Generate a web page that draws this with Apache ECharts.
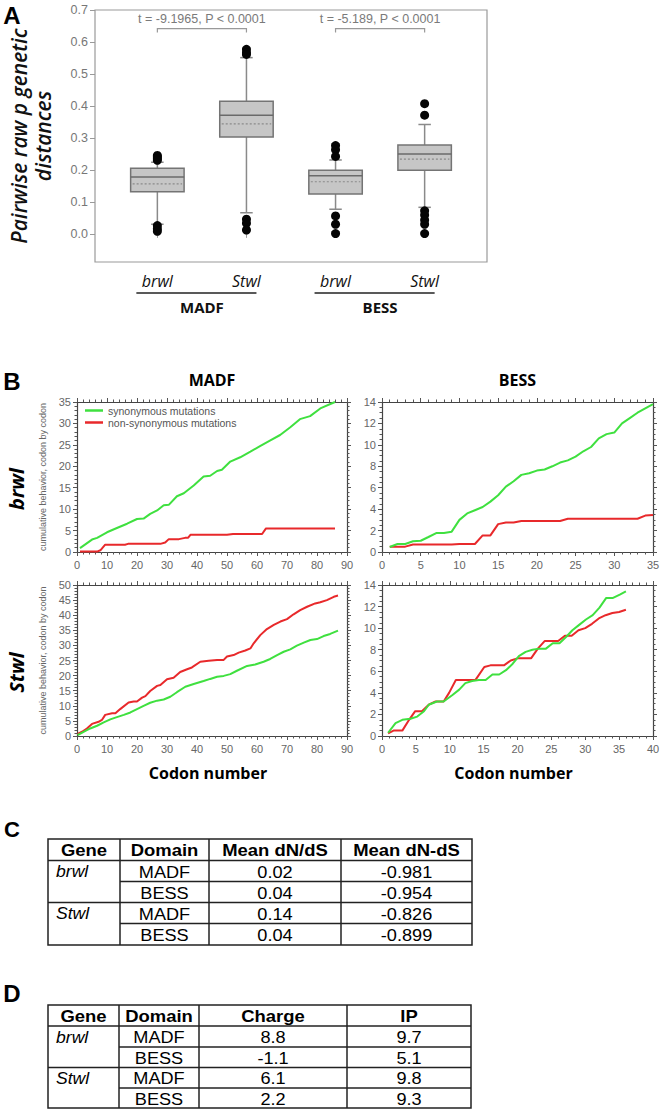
<!DOCTYPE html>
<html><head><meta charset="utf-8">
<script src="https://cdn.jsdelivr.net/npm/echarts@6/dist/echarts.min.js"></script>
<style>html,body{margin:0;padding:0;background:#fff}#c{width:667px;height:1112px}</style>
</head><body><div id="c"></div>
<script>
// ---------- Panel A data ----------
const boxCategories = ['brwl', 'Stwl', 'brwl', 'Stwl'];
const boxGroups = [[1, 2, 'MADF'], [3, 4, 'BESS']];
// [position, lowerWhisker, q1, median, q3, upperWhisker, mean]
const boxStats = [
  [1, 0.030, 0.132, 0.178, 0.205, 0.224, 0.156],
  [2, 0.066, 0.303, 0.371, 0.415, 0.551, 0.344],
  [3, 0.077, 0.125, 0.182, 0.199, 0.231, 0.163],
  [4, 0.083, 0.199, 0.250, 0.278, 0.342, 0.234]
];
const boxOutliers = [
  [1, 0.245], [1, 0.240], [1, 0.235], [1, 0.230], [1, 0.026], [1, 0.016], [1, 0.008],
  [2, 0.577], [2, 0.567], [2, 0.561], [2, 0.046], [2, 0.033], [2, 0.012],
  [3, 0.276], [3, 0.263], [3, 0.242], [3, 0.056], [3, 0.030], [3, 0.001],
  [4, 0.407], [4, 0.371], [4, 0.072], [4, 0.059], [4, 0.043], [4, 0.030], [4, 0.001]
];
const boxTicks = [0, 0.1, 0.2, 0.3, 0.4, 0.5, 0.6, 0.7];
const tTests = [[1, 2, 't = -9.1965, P < 0.0001'], [3, 4, 't = -5.189, P < 0.0001']];

// ---------- Panel B data ----------
const seriesNames = ['synonymous mutations', 'non-synonymous mutations'];
const brwlMadfSyn = [[1,0.9],[5,2.9],[6.7,3.3],[10,4.6],[13.3,5.6],[16.7,6.6],[20,7.7],[22.2,7.8],[24.4,8.9],[26.7,9.7],[28.9,10.9],[30.6,11.0],[33.3,13.0],[35.6,13.7],[38.9,15.5],[42.2,17.6],[44.4,17.8],[46.7,18.9],[48.3,19.2],[51.1,21.1],[54.4,22.1],[57.8,23.4],[61,24.7],[64.3,26],[67.7,27.3],[71.1,29.1],[74.3,31],[77.7,31.7],[81.1,33.5],[86,35]];
const brwlMadfNon = [[1,0.1],[6.7,0.1],[7.8,0.4],[9.4,1.7],[16,1.7],[17,1.9],[27.8,1.9],[29.4,2.2],[30.6,3.0],[34,3.0],[36,3.3],[37,3.3],[37.8,4.0],[50,4.0],[52,4.2],[61.7,4.2],[63,5.5],[86,5.5]];
const brwlBessSyn = [[1,0.47],[2,0.75],[3,0.75],[4,1.0],[5,1.05],[6,1.4],[7,1.77],[8,1.77],[9,1.9],[10,3.0],[11,3.6],[12,3.9],[13,4.2],[14,4.7],[15,5.3],[16,6.1],[17,6.6],[18,7.2],[19,7.35],[20,7.6],[21,7.7],[22,8.0],[23,8.35],[24,8.55],[25,8.9],[26,9.4],[27,9.8],[28,10.6],[29,11.0],[30,11.15],[31,12.0],[32,12.5],[33,13.0],[34,13.4],[35,13.8]];
const brwlBessNon = [[1,0.5],[3,0.5],[4,0.7],[9,0.7],[10,0.75],[12,0.75],[13,1.55],[14,1.55],[15,2.6],[16,2.75],[17,2.75],[18,2.9],[23,2.9],[24,3.1],[33,3.1],[34,3.4],[35,3.45]];
const stwlMadfSyn = [[0.2,0.3],[2.2,1.4],[4.4,2.5],[6.7,3.4],[8.9,4.5],[11.1,5.5],[12.8,6.1],[15.6,7.0],[17.8,7.8],[20,8.9],[22.2,10.0],[24.4,11.0],[26.7,11.7],[28.9,12.1],[31.1,13.0],[33.3,14.5],[36.1,16.3],[38.9,17.2],[42.2,18.2],[44.4,18.9],[46.7,19.6],[48.9,19.9],[51.1,20.5],[53.3,21.6],[56.7,23.2],[59.4,23.7],[62.2,24.6],[64.4,25.5],[66.7,26.8],[68.9,27.9],[71.1,28.7],[73.3,29.9],[75.6,30.9],[77.8,31.8],[80,32.1],[82.2,33.1],[84.4,33.8],[87,34.9]];
const stwlMadfNon = [[0.2,0.7],[1.7,1.4],[3.3,2.5],[5,4.0],[7.2,4.7],[8.3,5.3],[9.4,7.0],[11.7,7.5],[12.8,7.5],[14.4,8.9],[17.2,11.1],[18.9,11.4],[20,11.4],[21.7,12.7],[22.8,13.2],[24.4,14.9],[26.7,16.6],[27.8,16.9],[30,18.8],[32.2,19.3],[34.4,21.2],[36.7,22.1],[38.3,22.7],[41.1,24.6],[43.9,24.9],[46.7,25.2],[48.9,25.2],[50,26.3],[52.2,26.8],[53.9,27.6],[56.1,28.3],[57.8,29.0],[58.9,30.7],[61.1,33.4],[63.3,35.4],[65.6,36.8],[67.8,37.9],[70,38.7],[72.2,40.3],[74.4,41.7],[76.7,42.8],[79.4,43.9],[81.1,44.3],[83.3,45],[85.6,46.1],[87,46.5]];
const stwlBessSyn = [[0.9,0.3],[2,1.2],[3,1.5],[4.2,1.6],[5.2,1.8],[6.2,2.3],[6.9,2.9],[8.1,3.2],[9.1,3.2],[10.4,3.8],[11.4,4.3],[12.3,4.9],[13.3,5.1],[14.3,5.2],[15.3,5.2],[16.3,5.7],[17.3,5.7],[18.3,6.1],[19.3,6.7],[20.2,7.4],[21.2,7.8],[22.2,8.0],[23.2,8.1],[24.2,8.1],[25.2,8.6],[26.2,8.6],[27.2,9.2],[28.1,9.8],[29.1,10.3],[30.1,10.8],[31.1,11.2],[32.1,11.9],[33.1,12.8],[34.1,12.8],[35.1,13.1],[36,13.4]];
const stwlBessNon = [[0.9,0.25],[1.7,0.5],[3,0.5],[4,1.5],[4.9,2.3],[5.9,2.3],[6.9,2.9],[7.9,3.2],[9.1,3.2],[9.9,4.0],[10.9,5.2],[11.9,5.2],[12.8,5.2],[13.8,5.2],[15.1,6.4],[16,6.55],[17,6.55],[18,6.55],[19,7.0],[20,7.2],[21,7.2],[22,7.2],[23,8.1],[24,8.8],[25,8.8],[26,8.8],[27,9.3],[28,9.3],[29,9.8],[30,10.0],[31,10.4],[32,10.9],[33,11.2],[34,11.4],[35,11.5],[36,11.7]];
const panelBCols = ['MADF', 'BESS'];
const panelBRows = ['brwl', 'Stwl'];

// ---------- Tables ----------
const tableCHeader = ['Gene', 'Domain', 'Mean dN/dS', 'Mean dN-dS'];
const tableDHeader = ['Gene', 'Domain', 'Charge', 'IP'];
const tableGenes = ['brwl', '', 'Stwl', ''];
const tableDomains = ['MADF', 'BESS', 'MADF', 'BESS'];
const meanRatio = ['0.02', '0.04', '0.14', '0.04'];
const meanDiff = ['-0.981', '-0.954', '-0.826', '-0.899'];
const charge = ['8.8', '-1.1', '6.1', '2.2'];
const isoPoint = ['9.7', '5.1', '9.8', '9.3'];

// ---------- Layout ----------
const GRID_A = {left: 95, top: 10, width: 392, height: 252};
const GRIDS_B = [
  {left: 77, top: 402, width: 270, height: 150},
  {left: 382, top: 402, width: 271, height: 150},
  {left: 77, top: 585, width: 270, height: 151},
  {left: 382, top: 585, width: 271, height: 151}
];
const B_AXES = [
  {xMax: 90, xInt: 10, xMinor: 5, yMax: 35, yInt: 5, yMinor: 5},
  {xMax: 35, xInt: 5, xMinor: 5, yMax: 14, yInt: 2, yMinor: 4},
  {xMax: 90, xInt: 10, xMinor: 5, yMax: 50, yInt: 5, yMinor: 5},
  {xMax: 40, xInt: 5, xMinor: 5, yMax: 14, yInt: 2, yMinor: 4}
];
const B_DATA = [[brwlMadfSyn, brwlMadfNon], [brwlBessSyn, brwlBessNon], [stwlMadfSyn, stwlMadfNon], [stwlBessSyn, stwlBessNon]];
const GREEN = '#3fe03f', RED = '#e8292b';

const chart = echarts.init(document.getElementById('c'), null, {renderer: 'svg'});

const grids = [Object.assign({show: true, borderColor: '#9a9a9a', borderWidth: 1.2, outerBoundsMode: 'none'}, GRID_A)]
  .concat(GRIDS_B.map(g => Object.assign({outerBoundsMode: 'none'}, g)));

const xAxes = [{
  gridIndex: 0, type: 'value', min: 0.3, max: 4.7,
  axisLine: {show: false}, splitLine: {show: false},
  axisTick: {show: true, customValues: [1, 2, 3, 4], length: 4, lineStyle: {color: '#999'}},
  axisLabel: {show: true, customValues: [1, 2, 3, 4], margin: 11,
    formatter: v => boxCategories[Math.round(v) - 1],
    fontFamily: 'Open Sans', fontStyle: 'italic', fontSize: 16, color: '#111'}
}];
const yAxes = [{
  gridIndex: 0, type: 'value', min: -0.088, max: 0.7,
  axisLine: {show: false}, splitLine: {show: false},
  axisTick: {show: true, customValues: boxTicks, length: 5, lineStyle: {color: '#999'}},
  axisLabel: {show: true, customValues: boxTicks, formatter: v => v.toFixed(1), margin: 7,
    fontFamily: 'Arial', fontSize: 12.5, color: '#777'},
  name: 'Pairwise raw p genetic\ndistances', nameLocation: 'middle', nameGap: 40, nameRotate: 90,
  nameTextStyle: {fontFamily: 'Open Sans', fontStyle: 'italic', fontWeight: 600, fontSize: 21, lineHeight: 24, color: '#111'}
}];

B_AXES.forEach((a, i) => {
  const g = i + 1;
  const tickStyle = {color: '#555', width: 1};
  const common = {gridIndex: g, type: 'value', splitLine: {show: false},
    axisLine: {show: true, onZero: false, lineStyle: {color: '#444', width: 1.2}}};
  const labelStyle = {fontFamily: 'Arial', fontSize: 11, color: '#666'};
  xAxes.push(Object.assign({}, common, {position: 'bottom', min: 0, max: a.xMax, interval: a.xInt,
    axisTick: {show: true, length: 4, lineStyle: tickStyle},
    minorTick: {show: true, splitNumber: a.xMinor, length: 2.5, lineStyle: tickStyle},
    axisLabel: Object.assign({margin: 7}, labelStyle)}));
  xAxes.push(Object.assign({}, common, {position: 'top', min: 0, max: a.xMax, interval: a.xInt,
    axisTick: {show: true, length: 4, lineStyle: tickStyle},
    minorTick: {show: true, splitNumber: a.xMinor, length: 2.5, lineStyle: tickStyle},
    axisLabel: {show: false}}));
  const yl = Object.assign({}, common, {position: 'left', min: 0, max: a.yMax, interval: a.yInt,
    axisTick: {show: true, length: 4, lineStyle: tickStyle},
    minorTick: {show: true, splitNumber: a.yMinor, length: 2.5, lineStyle: tickStyle},
    axisLabel: Object.assign({margin: 6}, labelStyle)});
  if (i % 2 === 0) {
    yl.name = 'cumulative behavior, codon by codon';
    yl.nameLocation = 'middle'; yl.nameGap = 30; yl.nameRotate = 90;
    yl.nameTextStyle = {fontFamily: 'Arial', fontSize: 9, color: '#666'};
  }
  yAxes.push(yl);
  yAxes.push(Object.assign({}, common, {position: 'right', min: 0, max: a.yMax, interval: a.yInt,
    axisTick: {show: true, length: 4, lineStyle: tickStyle},
    minorTick: {show: true, splitNumber: a.yMinor, length: 2.5, lineStyle: tickStyle},
    axisLabel: {show: false}}));
});

function renderBox(params, api) {
  const x = api.value(0);
  const lw = api.coord([x, api.value(1)]);
  const q1 = api.coord([x, api.value(2)]);
  const md = api.coord([x, api.value(3)]);
  const q3 = api.coord([x, api.value(4)]);
  const uw = api.coord([x, api.value(5)]);
  const mn = api.coord([x, api.value(6)]);
  const bw = api.size([0.6, 0])[0];
  const cw = api.size([0.14, 0])[0];
  const cx = q1[0];
  const ls = {stroke: '#8a8a8a', lineWidth: 1.5};
  return {type: 'group', children: [
    {type: 'line', shape: {x1: cx, y1: lw[1], x2: cx, y2: q1[1]}, style: ls},
    {type: 'line', shape: {x1: cx, y1: q3[1], x2: cx, y2: uw[1]}, style: ls},
    {type: 'line', shape: {x1: cx - cw / 2, y1: lw[1], x2: cx + cw / 2, y2: lw[1]}, style: ls},
    {type: 'line', shape: {x1: cx - cw / 2, y1: uw[1], x2: cx + cw / 2, y2: uw[1]}, style: ls},
    {type: 'rect', shape: {x: cx - bw / 2, y: q3[1], width: bw, height: q1[1] - q3[1]},
      style: {fill: '#c6c6c6', stroke: '#747474', lineWidth: 1.5}},
    {type: 'line', shape: {x1: cx - bw / 2, y1: md[1], x2: cx + bw / 2, y2: md[1]}, style: {stroke: '#6a6a6a', lineWidth: 1.5}},
    {type: 'line', shape: {x1: cx - bw / 2 + 2, y1: mn[1], x2: cx + bw / 2 - 2, y2: mn[1]}, style: {stroke: '#8a8a8a', lineWidth: 1.2, lineDash: [2, 2]}}
  ]};
}

function renderTTest(params, api) {
  const a = api.coord([api.value(0), 0.642]);
  const b = api.coord([api.value(1), 0.642]);
  const leg = api.coord([api.value(0), 0.630]);
  const t = api.coord([(api.value(0) + api.value(1)) / 2, 0.672]);
  const st = {stroke: '#999', lineWidth: 1.2, fill: null};
  return {type: 'group', children: [
    {type: 'polyline', shape: {points: [[a[0], leg[1]], [a[0], a[1]], [b[0], b[1]], [b[0], leg[1]]]}, style: st},
    {type: 'text', style: {text: tTests[params.dataIndex][2], x: t[0], y: t[1], align: 'center', verticalAlign: 'middle',
      fill: '#7a7a7a', fontSize: 12.5, fontFamily: 'Arial'}}
  ]};
}

function renderGroup(params, api) {
  const a = api.coord([api.value(0), -0.088]);
  const b = api.coord([api.value(1), -0.088]);
  const y = a[1];
  return {type: 'group', children: [
    {type: 'line', shape: {x1: a[0] - 21, y1: y + 31, x2: b[0] + 10, y2: y + 31}, style: {stroke: '#222', lineWidth: 1.5}},
    {type: 'text', style: {text: boxGroups[params.dataIndex][2], x: (a[0] + b[0]) / 2, y: y + 45, align: 'center', verticalAlign: 'middle',
      fill: '#111', fontSize: 15, fontWeight: 'bold', fontFamily: 'Open Sans'}}
  ]};
}

const series = [
  {type: 'custom', xAxisIndex: 0, yAxisIndex: 0, renderItem: renderBox, data: boxStats, z: 2},
  {type: 'scatter', xAxisIndex: 0, yAxisIndex: 0, data: boxOutliers, symbolSize: 9, itemStyle: {color: '#050505', opacity: 1}, z: 3, silent: true},
  {type: 'custom', xAxisIndex: 0, yAxisIndex: 0, renderItem: renderTTest, data: tTests.map(d => [d[0], d[1]]), clip: false},
  {type: 'custom', xAxisIndex: 0, yAxisIndex: 0, renderItem: renderGroup, data: boxGroups.map(d => [d[0], d[1]]), clip: false}
];
B_DATA.forEach((pair, i) => {
  pair.forEach((d, k) => {
    series.push({type: 'line', name: seriesNames[k], xAxisIndex: 1 + 2 * i, yAxisIndex: 1 + 2 * i,
      data: d, showSymbol: false, symbol: 'none', lineStyle: {color: k === 0 ? GREEN : RED, width: 2},
      itemStyle: {color: k === 0 ? GREEN : RED}, z: k === 0 ? 3 : 2, silent: true});
  });
});

// ---------- graphic elements: labels and tables ----------
const graphic = [];
function addText(text, x, y, opts) {
  graphic.push({type: 'text', x: x, y: y, rotation: opts.rotation || 0, scaleX: opts.scaleX || 1,
    style: Object.assign({text: text, align: 'center', verticalAlign: 'middle', fill: '#000', fontFamily: 'Arial'}, opts.style || {})});
}
addText('A', 12, 15, {style: {fontSize: 24, fontWeight: 'bold'}});
addText('B', 12, 381, {style: {fontSize: 24, fontWeight: 'bold'}});
addText('C', 12, 829, {style: {fontSize: 22, fontWeight: 'bold'}});
addText('D', 12, 993, {style: {fontSize: 24, fontWeight: 'bold'}});
panelBCols.forEach((t, c) => {
  const g = GRIDS_B[c];
  addText(t, g.left + g.width / 2, 380, {style: {fontSize: 16, fontWeight: 'bold', fontFamily: 'Open Sans'}});
  addText('Codon number', GRIDS_B[c + 2].left + GRIDS_B[c + 2].width / 2 - 4, 773, {style: {fontSize: 16, fontWeight: 'bold', fontFamily: 'Open Sans'}});
});
panelBRows.forEach((t, r) => {
  const g = GRIDS_B[r * 2];
  addText(t, 16, g.top + g.height / 2 + 12, {rotation: Math.PI / 2, style: {fontSize: 20, fontWeight: 'bold', fontStyle: 'italic', fontFamily: 'Open Sans'}});
});

function addTable(colX, rowY, header, cols) {
  const L = colX[0], R = colX[colX.length - 1], T = rowY[0], B = rowY[rowY.length - 1];
  const st = {stroke: '#222', lineWidth: 1.5};
  graphic.push({type: 'rect', shape: {x: L, y: T, width: R - L, height: B - T}, style: {fill: null, stroke: '#222', lineWidth: 1.5}});
  for (let i = 1; i < colX.length - 1; i++) graphic.push({type: 'line', shape: {x1: colX[i], y1: T, x2: colX[i], y2: B}, style: st});
  graphic.push({type: 'line', shape: {x1: L, y1: rowY[1], x2: R, y2: rowY[1]}, style: st});
  graphic.push({type: 'line', shape: {x1: colX[1], y1: rowY[2], x2: R, y2: rowY[2]}, style: st});
  graphic.push({type: 'line', shape: {x1: L, y1: rowY[3], x2: R, y2: rowY[3]}, style: st});
  graphic.push({type: 'line', shape: {x1: colX[1], y1: rowY[4], x2: R, y2: rowY[4]}, style: st});
  header.forEach((h, c) => addText(h, (colX[c] + colX[c + 1]) / 2, (rowY[0] + rowY[1]) / 2 + 1, {scaleX: 1.12, style: {fontSize: 16.5, fontWeight: 'bold'}}));
  for (let r = 0; r < 4; r++) {
    const cy = (rowY[r + 1] + rowY[r + 2]) / 2 + 1;
    if (tableGenes[r]) addText(tableGenes[r], colX[0] + 8, cy, {scaleX: 1.1, style: {fontSize: 16, fontStyle: 'italic', align: 'left'}});
    cols.forEach((col, c) => addText(col[r], (colX[c + 1] + colX[c + 2]) / 2, cy, {scaleX: 1.1, style: {fontSize: 16.5}}));
  }
}
addTable([48, 120, 209, 341, 472], [839, 860.5, 881.5, 902.5, 923.5, 945], tableCHeader, [tableDomains, meanRatio, meanDiff]);
addTable([48, 119, 199, 347, 471], [1005, 1026, 1047, 1067.5, 1088, 1108], tableDHeader, [tableDomains, charge, isoPoint]);

chart.setOption({
  backgroundColor: '#fff',
  animation: false,
  grid: grids,
  xAxis: xAxes,
  yAxis: yAxes,
  legend: {data: seriesNames, left: 85, top: 405, orient: 'vertical', itemGap: 1, itemWidth: 18, itemHeight: 2.5,
    icon: 'rect', selectedMode: false, textStyle: {fontFamily: 'Arial', fontSize: 10.5, color: '#555'}, padding: 0},
  series: series,
  graphic: graphic
});
</script></body></html>
